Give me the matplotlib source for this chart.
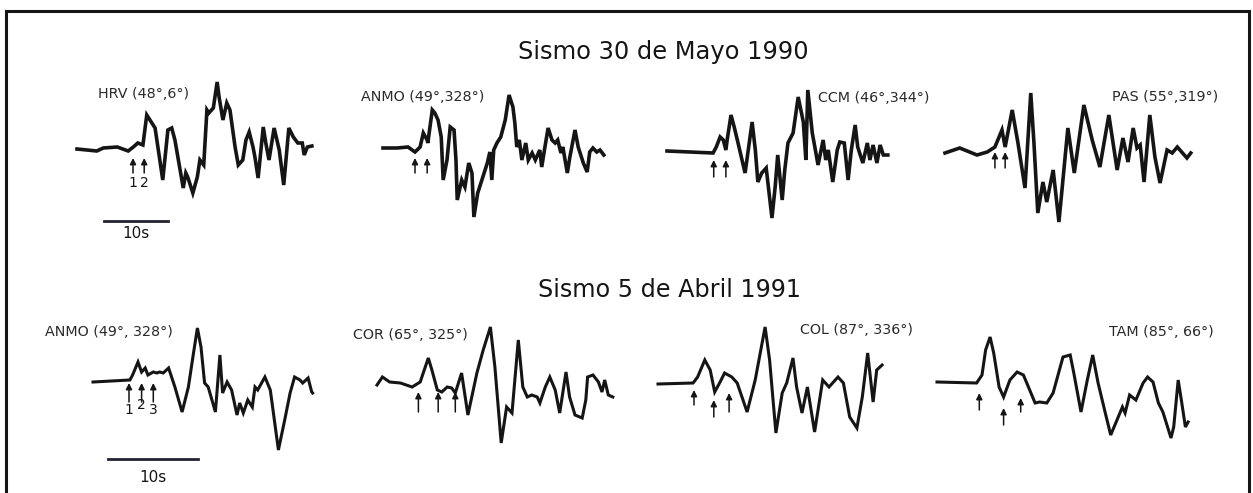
import matplotlib.pyplot as plt

# Sismogramas (tiempo en s, amplitud en unidades arbitrarias, positiva hacia arriba)
# --- Sismo 30 de Mayo 1990 ---
hrv_t = [0.0, 3.1, 4.1, 6.3, 8.0, 8.8, 9.5, 10.3, 10.9, 11.7, 12.2, 13.4, 14.2, 14.8, 15.3,
         16.6, 17.0, 17.3, 18.1, 18.8, 19.2, 19.8, 20.3, 20.6, 21.3, 21.9, 22.2, 22.8, 23.4,
         23.9, 24.7, 25.2, 25.9, 26.4, 26.9, 27.5, 27.8, 28.3, 29.1, 29.5, 30.0, 30.8, 31.6,
         32.3, 33.1, 33.8, 34.5, 35.2, 35.5, 36.0, 36.7]
hrv_a = [0, -2, 1, 2, -2, 2, 6, 4, 34, 26, 21, -31, 19, 21, 9,
         -39, -24, -28, -44, -28, -11, -16, 39, 36, 41, 67, 52, 29, 46,
         39, 2, -16, -11, 9, 17, 2, -8, -29, 22, 6, -11, 21, -1,
         -36, 21, 12, 6, 6, -6, 2, 3]

anmo90_t = [0.0, 2.2, 3.9, 5.0, 5.8, 6.3, 6.9, 7.0, 7.7, 8.1, 8.6, 9.1, 9.4, 10.0, 10.5,
            11.1, 11.4, 11.6, 12.3, 12.8, 13.4, 13.9, 14.2, 14.8, 16.3, 16.7, 17.0, 17.3,
            17.8, 18.4, 19.1, 19.7, 20.3, 20.6, 20.9, 21.3, 21.7, 22.3, 22.7, 23.3, 23.8,
            24.5, 24.8, 25.3, 25.8, 26.4, 26.9, 27.3, 27.8, 28.1, 28.8, 29.2, 30.0, 30.5,
            31.3, 31.9, 32.3, 32.8, 33.4, 33.9, 34.5]
anmo90_a = [0, 0, 1, -4, 1, 15, 8, 5, 38, 35, 28, 11, -32, -12, 21,
            18, -12, -52, -32, -39, -15, -25, -69, -45, -15, -4, -32, -2,
            5, 11, 28, 53, 41, 25, 1, 8, -12, 5, -12, -5, -12,
            -2, -19, 1, 20, 8, 5, 8, -5, 1, -25, -9, 18, 1,
            -15, -24, -4, 0, -4, -2, -7]

ccm_t = [0.0, 3.6, 7.2, 7.7, 8.3, 8.8, 9.2, 9.4, 10.0, 10.5, 11.1, 12.2, 13.3, 13.8, 14.2,
         14.8, 15.5, 16.4, 16.9, 17.3, 18.0, 18.4, 18.9, 19.7, 20.5, 21.3, 21.7, 22.0, 22.7,
         23.1, 23.6, 24.4, 24.8, 25.2, 25.9, 26.6, 27.0, 27.7, 28.3, 28.8, 29.4, 29.8, 30.6,
         31.3, 31.7, 32.2, 32.8, 33.3, 33.8, 34.5]
ccm_a = [0, -1, -2, 4, 14, 11, 1, 11, 36, 24, 8, -22, 29, 1, -31,
         -22, -17, -67, -36, -4, -49, -19, 8, 18, 54, 29, -9, 61, 18,
         4, -14, 11, -9, 1, -31, 1, 9, 8, -29, 1, 26, 4, -12,
         8, -9, 6, -12, 6, -4, -4]

pas_t = [0.0, 2.3, 5.0, 6.6, 7.8, 8.9, 9.4, 10.5, 11.4, 12.5, 13.4, 13.9, 14.5, 15.3, 15.9,
         16.9, 17.8, 19.2, 20.2, 21.7, 23.0, 24.2, 25.6, 26.9, 27.8, 28.6, 29.4, 30.0, 30.5,
         31.1, 32.0, 32.8, 33.6, 34.7, 35.5, 36.3, 37.8, 38.4]
pas_a = [0, 5, -2, 1, 6, 23, 6, 43, 10, -35, 60, 10, -60, -29, -49,
         -17, -69, 25, -20, 48, 13, -14, 38, -17, 15, -9, 25, 5, 8,
         -29, 38, -4, -30, 3, 0, 6, -5, 0]

# --- Sismo 5 de Abril 1991 ---
anmo91_t = [0.0, 4.1, 4.4, 5.0, 5.4, 5.8, 6.1, 6.7, 7.1, 7.4, 7.8, 8.4, 9.1, 9.9, 10.6,
            11.1, 11.6, 12.0, 12.4, 12.8, 13.6, 14.1, 14.4, 14.9, 15.4, 16.0, 16.3, 16.7,
            17.2, 17.7, 18.0, 18.3, 19.1, 19.7, 20.6, 21.3, 21.9, 22.4, 23.0, 23.3, 23.9,
            24.3, 24.4]
anmo91_a = [0, 2, 7, 20, 10, 14, 7, 10, 9, 10, 9, 14, -5, -30, -5,
            25, 54, 35, -1, -5, -30, 27, -11, 0, -8, -33, -21, -31,
            -18, -25, -5, -8, 5, -8, -68, -38, -11, 5, 2, -1, 4,
            -10, -11]

cor_t = [0.0, 0.6, 1.4, 2.6, 3.9, 4.8, 5.7, 6.1, 6.7, 7.2, 7.8, 8.3, 8.7, 9.4, 10.1,
         11.1, 11.8, 12.6, 13.1, 13.8, 14.4, 15.0, 15.7, 16.2, 16.7, 17.2, 17.8, 18.1, 18.7,
         19.2, 19.8, 20.3, 21.0, 21.4, 22.0, 22.8, 23.2, 23.4, 24.0, 24.6, 25.0, 25.3, 25.7,
         26.2]
cor_a = [0, 8, 3, 2, -2, 3, 27, 15, -5, -7, -2, -3, -8, 12, -30,
         12, 35, 58, 18, -58, -22, -28, 45, -2, -12, -10, -12, -18, -2,
         8, -5, -28, 13, -12, -30, -33, -15, 8, 10, 3, -7, 5, -10,
         -12]

col_t = [0.0, 3.9, 4.4, 5.2, 5.8, 6.3, 6.9, 7.4, 8.2, 8.8, 9.9, 10.8, 11.9, 12.4, 13.1,
         13.8, 14.3, 15.0, 15.4, 16.0, 16.6, 17.4, 18.3, 19.0, 20.0, 20.6, 21.3, 22.1, 22.7,
         23.3, 23.9, 24.3, 24.9]
col_a = [0, 1, 7, 24, 14, -8, 2, 11, 7, 1, -28, 4, 57, 24, -49,
         -9, 1, 26, -3, -29, -3, -48, 4, -3, 7, 1, -33, -44, -13,
         31, -18, 14, 19]

tam_t = [0.0, 4.4, 5.0, 5.4, 5.9, 6.3, 6.9, 7.4, 8.1, 8.9, 9.6, 10.3, 10.9, 11.4, 12.2,
         12.9, 13.6, 14.0, 14.8, 15.2, 16.0, 16.7, 17.3, 17.9, 18.7, 19.3, 20.0, 20.6, 20.9,
         21.4, 22.1, 22.9, 23.4, 24.0, 24.6, 25.1, 26.0, 26.3, 26.8, 27.2, 27.6, 27.9]
tam_a = [0, -1, 7, 32, 45, 29, -5, -15, 2, 10, 7, -8, -21, -20, -21,
         -11, 12, 25, 27, 9, -30, 2, 27, -1, -31, -53, -38, -25, -31,
         -13, -18, -1, 5, 0, -21, -30, -56, -45, 2, -21, -45, -40]

# Fases marcadas: tiempo de la flecha, amplitud de la punta y de la cola
hrv_picks = [(8.75, -9, -24), (10.5, -9, -24)]
anmo90_picks = [(5.0, -10, -25), (6.9, -10, -25)]
ccm_picks = [(7.3, -9, -26), (9.2, -9, -26)]
pas_picks = [(7.8, 1, -15), (9.4, 1, -15)]
anmo91_picks = [(4.0, -1, -20), (5.4, -1, -20), (6.7, -1, -20)]
cor_picks = [(4.6, -7, -27), (6.8, -7, -27), (8.7, -7, -27)]
col_picks = [(4.0, -6, -21), (6.2, -16, -33), (7.9, -9, -28)]
tam_picks = [(4.7, -11, -28), (7.4, -26, -43), (9.3, -16, -30)]

stations = ['HRV (48°,6°)', 'ANMO (49°,328°)', 'CCM (46°,344°)', 'PAS (55°,319°)',
            'ANMO (49°, 328°)', 'COR (65°, 325°)', 'COL (87°, 336°)', 'TAM (85°, 66°)']
events = ['Sismo 30 de Mayo 1990', 'Sismo 5 de Abril 1991']

FIG_W, FIG_H = 1253, 493
INK = '#151515'
LABEL_INK = '#2a2a2a'

fig = plt.figure(figsize=(FIG_W / 100, FIG_H / 100), dpi=100)
bg = fig.add_axes([0, 0, 1, 1])
bg.set_xlim(0, FIG_W)
bg.set_ylim(FIG_H, 0)
bg.axis('off')

# marco
bg.plot([6, 6, 1249, 1249], [505, 11, 11, 505], color=INK, lw=2.2, solid_joinstyle='miter')

# titulos de cada evento
bg.text(663, 52, events[0], fontsize=17.4, ha='center', va='center', color=INK)
bg.text(670, 290, events[1], fontsize=17.2, ha='center', va='center', color=INK)


def trace_axes(x0, y0, px_per_s, span_s=45, half_h=110):
    """Axes sin marco cuyo origen (t=0, a=0) cae en el pixel (x0, y0)."""
    ax = fig.add_axes([x0 / FIG_W, (FIG_H - y0 - half_h) / FIG_H,
                       span_s * px_per_s / FIG_W, 2 * half_h / FIG_H])
    ax.set_xlim(0, span_s)
    ax.set_ylim(-half_h, half_h)
    ax.axis('off')
    return ax


def draw_trace(ax, t, a, picks, lw):
    ax.plot(t, a, color=INK, lw=lw, solid_joinstyle='miter', clip_on=False)
    for tp, tip, tail in picks:
        ax.annotate('', xy=(tp, tip), xytext=(tp, tail),
                    arrowprops=dict(arrowstyle='-|>', color=INK, lw=1.1,
                                    mutation_scale=9, shrinkA=0, shrinkB=0))


top = [
    (hrv_t, hrv_a, hrv_picks, 77, 149, (98, 94)),
    (anmo90_t, anmo90_a, anmo90_picks, 383, 148, (361, 97)),
    (ccm_t, ccm_a, ccm_picks, 667, 151, (818, 98)),
    (pas_t, pas_a, pas_picks, 945, 153, (1112, 97)),
]
bottom = [
    (anmo91_t, anmo91_a, anmo91_picks, 93, 382, (45, 332)),
    (cor_t, cor_a, cor_picks, 377, 385, (353, 335)),
    (col_t, col_a, col_picks, 658, 384, (800, 330)),
    (tam_t, tam_a, tam_picks, 937, 382, (1109, 332)),
]

axes_top = []
for i, (t, a, picks, x0, y0, lab) in enumerate(top):
    ax = trace_axes(x0, y0, 6.4)
    draw_trace(ax, t, a, picks, lw=2.6)
    bg.text(lab[0], lab[1], stations[i], fontsize=10.3, ha='left', va='center', color=LABEL_INK)
    axes_top.append(ax)

axes_bottom = []
for i, (t, a, picks, x0, y0, lab) in enumerate(bottom):
    ax = trace_axes(x0, y0, 9.0, span_s=32)
    draw_trace(ax, t, a, picks, lw=2.2)
    bg.text(lab[0], lab[1], stations[4 + i], fontsize=10.3, ha='left', va='center', color=LABEL_INK)
    axes_bottom.append(ax)

# numeracion de fases
ax = axes_top[0]
for n, (tp, _, _) in enumerate(hrv_picks, start=1):
    ax.text(tp, -34, str(n), fontsize=10, ha='center', va='center', color=INK)
ax = axes_bottom[0]
for n, (tp, _, _) in enumerate(anmo91_picks, start=1):
    ax.text(tp, -23 if n == 2 else -28, str(n), fontsize=10, ha='center', va='center', color=INK)

# barras de escala de 10 s
ax = axes_top[0]
ax.plot([4.2, 14.2], [-72, -72], color='#223', lw=2.0, clip_on=False)
ax.text(9.2, -84, '10s', fontsize=11, ha='center', va='center', color=INK)
ax = axes_bottom[0]
ax.plot([1.7, 11.7], [-77, -77], color='#223', lw=2.0, clip_on=False)
ax.text(6.7, -95, '10s', fontsize=11, ha='center', va='center', color=INK)

fig.savefig('out.png', dpi=100, facecolor='white')
